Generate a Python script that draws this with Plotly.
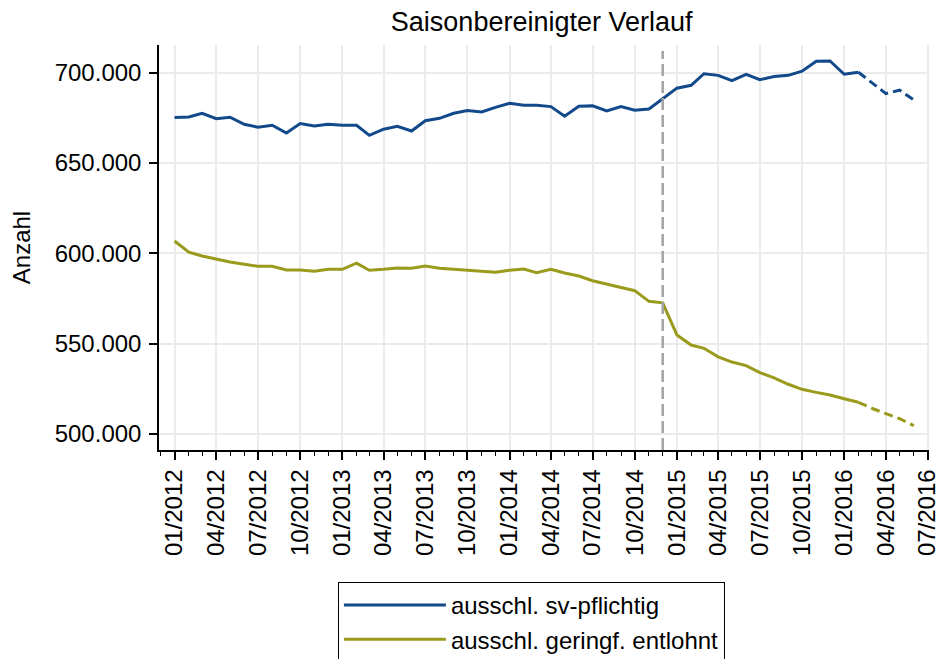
import pandas as pd
import plotly.graph_objects as go

months = pd.date_range("2012-01-01", periods=54, freq="MS")

sv_pflichtig = [
    675.1, 675.5, 677.5, 674.5, 675.3, 671.4, 669.8, 670.9, 666.6, 671.8,
    670.5, 671.4, 670.9, 670.9, 665.3, 668.7, 670.3, 667.7, 673.4, 674.7,
    677.5, 679.0, 678.2, 680.8, 683.0, 681.9, 681.9, 681.2, 675.9, 681.4,
    681.6, 678.8, 681.2, 679.2, 679.9, 685.5, 691.4, 693.0, 699.4, 698.5,
    695.6, 699.1, 696.1, 697.8, 698.5, 700.8, 706.3, 706.5, 699.1, 700.2,
    694.5, 688.4, 690.3, 684.9,
]
geringf_entlohnt = [
    606.8, 600.6, 598.5, 596.7, 595.2, 593.9, 592.8, 592.8, 590.8, 590.8,
    590.0, 591.1, 591.1, 594.5, 590.6, 591.1, 591.9, 591.7, 593.0, 591.7,
    591.1, 590.9, 590.0, 589.5, 590.6, 591.3, 589.3, 591.1, 589.1, 587.4,
    584.8, 583.0, 581.3, 579.3, 573.4, 572.6, 554.8, 549.2, 547.4, 542.7,
    539.8, 537.8, 533.9, 531.0, 527.5, 524.7, 523.0, 521.5, 519.5, 517.5,
    514.2, 511.2, 508.4, 504.6,
]
series_names = ["ausschl. sv-pflichtig", "ausschl. geringf. entlohnt"]
y_ticks = [500000, 550000, 600000, 650000, 700000]
solid_end = 50  # solid up to 02/2016, dashed afterwards
break_date = "2014-12-01"

blue = "#12498a"
olive = "#9a9a1c"
font_family = "Liberation Sans, Arial, sans-serif"

# page body has an 8px margin; figure is sized so that the visible part matches
W, H = 944, 720
L, T, R = 146, 37, 19
PLOT_H = 405
B = H - T - PLOT_H

fig = go.Figure()
for name, vals, col in [(series_names[0], sv_pflichtig, blue),
                        (series_names[1], geringf_entlohnt, olive)]:
    v = [x * 1000 for x in vals]
    fig.add_trace(go.Scatter(x=months[:solid_end], y=v[:solid_end], mode="lines",
                             name=name, line=dict(color=col, width=3)))
    fig.add_trace(go.Scatter(x=months[solid_end - 1:], y=v[solid_end - 1:], mode="lines",
                             showlegend=False, hoverinfo="skip",
                             line=dict(color=col, width=3, dash="9px,5px")))

fig.add_shape(type="line", xref="x", yref="paper", x0=break_date, x1=break_date,
              y0=0, y1=0.985, line=dict(color="#a4a4a4", width=2.5, dash="12px,5px"))

fig.update_layout(
    width=W, height=H,
    margin=dict(l=L, r=R, t=T, b=B),
    paper_bgcolor="white", plot_bgcolor="white",
    font=dict(family=font_family, size=24, color="black"),
    separators=",.",
    title=dict(text="Saisonbereinigter Verlauf", x=0.497, xref="paper", xanchor="center",
               y=1 - 14 / H, yanchor="middle", yref="container",
               font=dict(size=27, color="black")),
    legend=dict(x=(327 - L) / (W - L - R), y=(T + PLOT_H - 574) / PLOT_H,
                xanchor="left", yanchor="top",
                bordercolor="black", borderwidth=1, bgcolor="white",
                font=dict(size=24), itemwidth=102, tracegroupgap=0),
    showlegend=True,
)
fig.update_xaxes(
    range=["2011-11-28", "2016-07-04"],
    tick0="2012-01-01", dtick="M3", tickformat="%m/%Y", tickangle=-90,
    ticklabeloverflow="allow",
    ticks="outside", ticklen=8, tickwidth=1.5, tickcolor="black",
    showline=True, linecolor="black", linewidth=1.5,
    showgrid=True, gridcolor="#ebebeb", gridwidth=2,
    zeroline=False,
    minor=dict(dtick="M1", tick0="2012-01-01", ticks="outside", ticklen=4,
               tickwidth=1.2, tickcolor="black", showgrid=False),
    tickfont=dict(size=24),
)
fig.update_yaxes(
    range=[491100, 715300],
    tickvals=y_ticks, tickformat=",.0f",
    ticks="outside", ticklen=8, tickwidth=1.5, tickcolor="black",
    ticklabelstandoff=3,
    showline=True, linecolor="black", linewidth=1.5,
    showgrid=True, gridcolor="#ebebeb", gridwidth=2,
    zeroline=False,
    title=dict(text="Anzahl", font=dict(size=24), standoff=18),
    tickfont=dict(size=24),
)

fig.write_html("out.html")
